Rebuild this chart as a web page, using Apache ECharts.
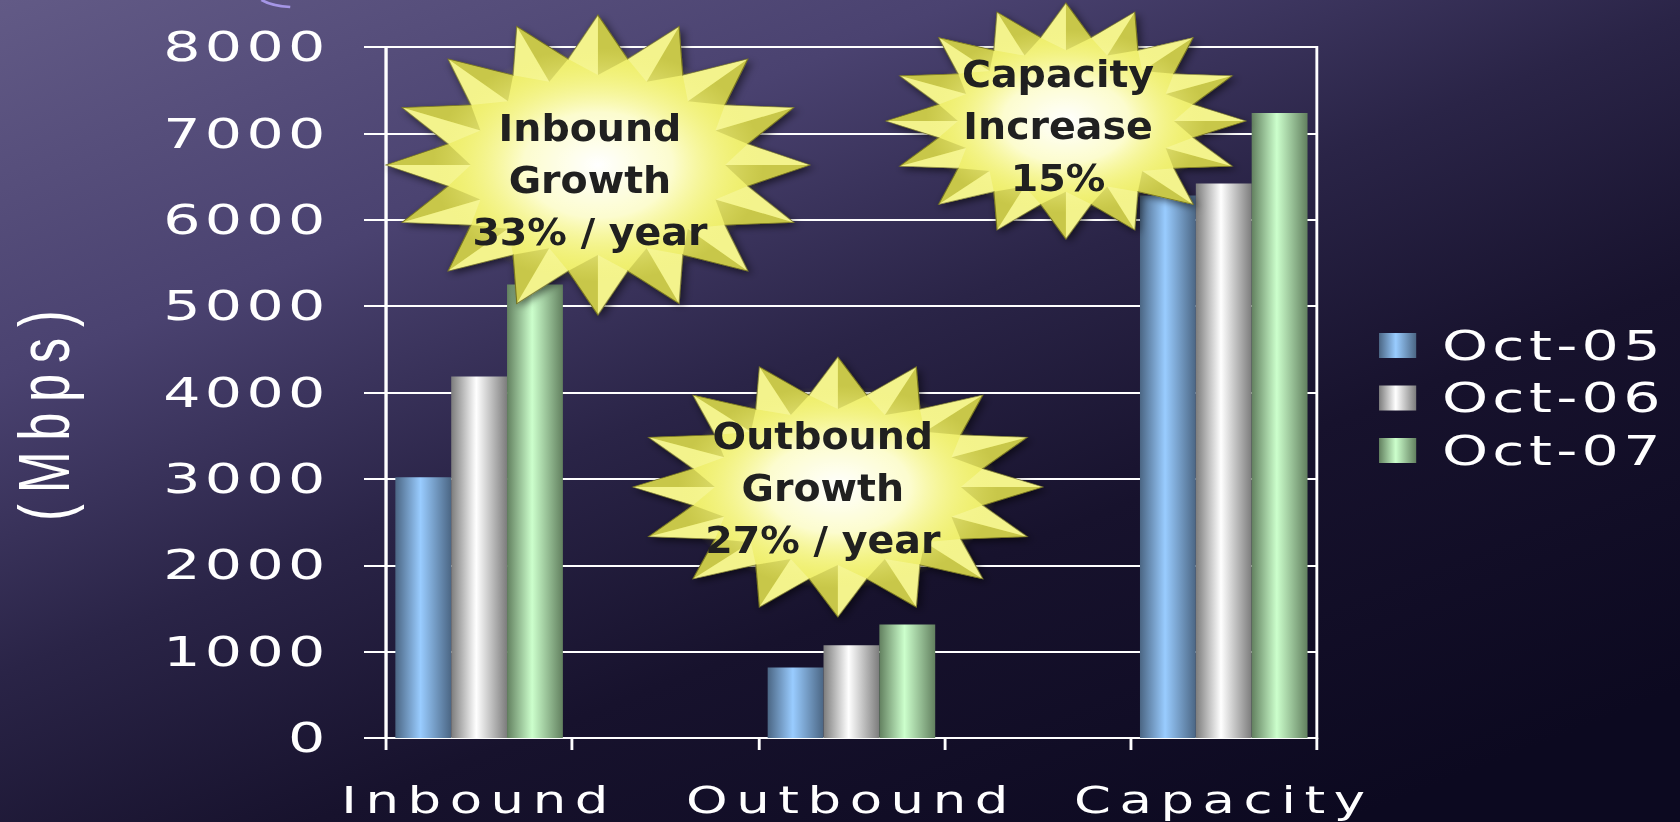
<!DOCTYPE html>
<html>
<head>
<meta charset="utf-8">
<script src="https://cdn.jsdelivr.net/npm/echarts@6/dist/echarts.min.js"></script>
<style>
html, body { margin: 0; padding: 0; width: 1680px; height: 822px; overflow: hidden; background: #0e0b20; }
#chart { width: 1175px; height: 822px; transform: scaleX(1.429787); transform-origin: 0 0; }
#chart text[style*="37px"] { letter-spacing: 6px; }
#chart text[style*="41px"] { letter-spacing: 3px; }
#chart text[style*="50px"] { letter-spacing: 11px; }
</style>
</head>
<body>
<div id="chart"></div>
<script>
// ---- data ----
const categories = ['Inbound', ' ', 'Outbound', '  ', 'Capacity'];
const seriesNames = ['Oct-05', 'Oct-06', 'Oct-07'];
const oct05 = [3020, null, 815, null, 6280];
const oct06 = [4185, null, 1073, null, 6420];
const oct07 = [5250, null, 1315, null, 7235];
const yMin = 0, yMax = 8000, yStep = 1000;
const axisTitle = '(Mbps)';
const inboundNote = ['Inbound', 'Growth', '33% / year'];
const outboundNote = ['Outbound', 'Growth', '27% / year'];
const capacityNote = ['Capacity', 'Increase', '15%'];

// ---- styling helpers ----
function cyl(dark, light) {
  return { type: 'linear', x: 0, y: 0, x2: 1, y2: 0,
    colorStops: [{ offset: 0, color: dark }, { offset: 0.45, color: light }, { offset: 1, color: dark }] };
}
const barColors = [cyl('#4b6684', '#99ccff'), cyl('#7c7c7c', '#ffffff'), cyl('#62805f', '#ccffcc')];

function starPoints(cx, cy, rx, ry, n, inner) {
  const pts = [];
  for (let i = 0; i < 2 * n; i++) {
    const a = -Math.PI / 2 + i * Math.PI / n;
    const r = i % 2 === 0 ? 1 : inner;
    pts.push([cx + rx * r * Math.cos(a), cy + ry * r * Math.sin(a)]);
  }
  return pts;
}
function star(cx, cy, rx, ry, tx, ty, lines) {
  const n = 16, inner = 0.72;
  const pts = starPoints(cx, cy, rx, ry, n, inner);
  const els = [
    { type: 'polygon', z: 100, shape: { points: pts },
      style: { fill: '#eded68', stroke: '#6f6d22', lineWidth: 0.8,
        shadowBlur: 7, shadowColor: 'rgba(0,0,0,0.55)', shadowOffsetX: 2, shadowOffsetY: 3 } }
  ];
  // bevel shading on the two sides of every spike
  for (let i = 0; i < 2 * n; i += 2) {
    const t = pts[i], b = pts[(i + 1) % (2 * n)];
    const p = [cx + (t[0] - cx) * 0.6, cy + (t[1] - cy) * 0.6];
    els.push({ type: 'polygon', z: 101, shape: { points: [t, b, p] },
      style: { fill: 'rgba(150,148,30,0.42)' } });
    const a = pts[(i - 1 + 2 * n) % (2 * n)];
    els.push({ type: 'polygon', z: 101, shape: { points: [t, a, p] },
      style: { fill: 'rgba(255,255,210,0.35)' } });
  }
  // central glow
  els.push({ type: 'polygon', z: 102, shape: { points: starPoints(cx, cy, rx * 0.78, ry * 0.78, 48, 1) },
    style: { fill: { type: 'radial', x: 0.5, y: 0.5, r: 0.5,
      colorStops: [{ offset: 0, color: 'rgba(255,255,255,1)' }, { offset: 0.45, color: 'rgba(255,255,225,0.85)' }, { offset: 1, color: 'rgba(246,246,120,0)' }] } } });
  els.push({ type: 'text', z: 103, x: tx, y: ty, scaleX: 0.727,
    style: { text: lines.join('\n'), fontFamily: 'DejaVu Sans', fontWeight: 'bold', fontSize: 38, lineHeight: 52,
      fill: '#202020', align: 'center', verticalAlign: 'middle', textAlign: 'center', textVerticalAlign: 'middle' } });
  return els;
}

const chart = echarts.init(document.getElementById('chart'), null, { renderer: 'svg' });

const option = {
  animation: false,
  backgroundColor: { type: 'linear', x: 0, y: 0, x2: 0.8, y2: 1,
    colorStops: [{ offset: 0, color: '#625a86' }, { offset: 0.28, color: '#4a4270' }, { offset: 0.5, color: '#2a2447' }, { offset: 0.7, color: '#17122d' }, { offset: 1, color: '#0c0920' }] },
  grid: { left: 270, right: 254, top: 47, bottom: 84, show: true, borderColor: '#ffffff', borderWidth: 2, backgroundColor: 'transparent' },
  legend: {
    orient: 'vertical', left: 959.5, top: 320, itemWidth: 26, itemHeight: 25, itemGap: 11.5, icon: 'rect',
    data: seriesNames,
    textStyle: { color: '#ffffff', fontFamily: 'DejaVu Sans', fontSize: 41, lineHeight: 41, padding: [0, 0, 0, 13] }
  },
  xAxis: {
    type: 'category', data: categories,
    axisLine: { lineStyle: { color: '#ffffff', width: 2 } },
    axisTick: { show: true, interval: 0, length: 12, lineStyle: { color: '#ffffff', width: 2 } },
    axisLabel: { interval: 0, margin: 44, color: '#ffffff', fontFamily: 'DejaVu Sans', fontSize: 37 },
    splitLine: { show: false }
  },
  yAxis: {
    type: 'value', min: yMin, max: yMax, interval: yStep,
    axisLine: { show: true, lineStyle: { color: '#ffffff', width: 2 } },
    axisTick: { show: true, length: 15.4, lineStyle: { color: '#ffffff', width: 2 } },
    axisLabel: { margin: 39.5, color: '#ffffff', fontFamily: 'DejaVu Sans', fontSize: 41, formatter: v => String(v) },
    splitLine: { show: true, lineStyle: { color: '#ffffff', width: 2 } }
  },
  series: [
    { name: seriesNames[0], type: 'bar', data: oct05, barGap: '0%', barCategoryGap: '10%', itemStyle: { color: barColors[0] } },
    { name: seriesNames[1], type: 'bar', data: oct06, barGap: '0%', barCategoryGap: '10%', itemStyle: { color: barColors[1] } },
    { name: seriesNames[2], type: 'bar', data: oct07, barGap: '0%', barCategoryGap: '10%', itemStyle: { color: barColors[2] } }
  ],
  graphic: [
    { type: 'text', z: 5, x: 30.5, y: 410, rotation: Math.PI / 2,
      style: { text: axisTitle, fontFamily: 'Liberation Sans', fontSize: 50, fill: '#ffffff', align: 'center', verticalAlign: 'middle', textAlign: 'center', textVerticalAlign: 'middle' } },
    { type: 'bezierCurve', z: 5, shape: { x1: 183, y1: 0, cpx1: 190, cpy1: 6, x2: 203, y2: 7 },
      style: { stroke: '#a596e6', lineWidth: 2.5, fill: null } },
    ...star(418.2, 165, 148.3, 150, 412.6, 179.5, inboundNote),
    ...star(586, 487, 143.4, 130, 575.5, 487.5, outboundNote),
    ...star(745.5, 121, 125.9, 118, 740, 126, capacityNote)
  ]
};
chart.setOption(option);
</script>
</body>
</html>
